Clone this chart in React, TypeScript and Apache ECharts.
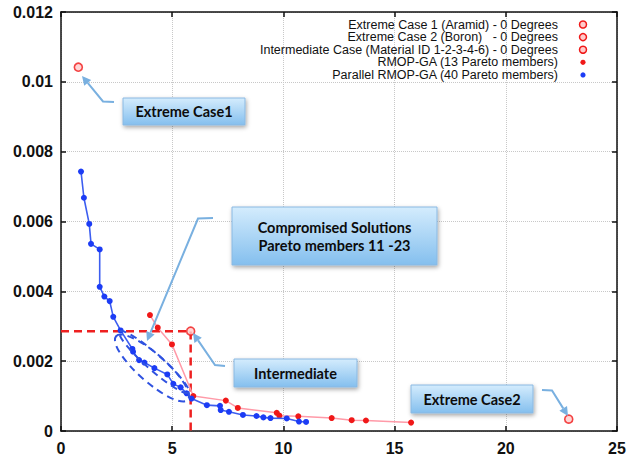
import React, { useEffect, useRef } from "react";
import * as echarts from "echarts";

const xTickLabels = ["0", "5", "10", "15", "20", "25"];
const yTickLabels = ["0", "0.002", "0.004", "0.006", "0.008", "0.01", "0.012"];

const legendLabels = [
  "Extreme Case 1 (Aramid) - 0 Degrees",
  "Extreme Case 2 (Boron)   - 0 Degrees",
  "Intermediate Case (Material ID 1-2-3-4-6) - 0 Degrees",
  "RMOP-GA (13 Pareto members)",
  "Parallel RMOP-GA (40 Pareto members)",
];

const extremeCase1 = [[0.78, 0.01042]];
const extremeCase2 = [[22.83, 0.00034]];
const intermediateCase = [[5.83, 0.00286]];

const rmopGA = [
  [4.0, 0.00332], [4.35, 0.00296], [4.99, 0.00248], [5.95, 0.001],
  [7.41, 0.00087], [7.95, 0.00066], [9.7, 0.00052], [9.82, 0.00044],
  [10.67, 0.00042], [12.17, 0.00037], [13.07, 0.00031], [13.71, 0.0003],
  [15.74, 0.00024],
];

const parallelRmopGA = [
  [0.9, 0.00743], [1.03, 0.00668], [1.27, 0.00593], [1.35, 0.00536],
  [1.74, 0.0052], [1.74, 0.00413], [1.95, 0.00385], [2.19, 0.00372],
  [2.35, 0.00327], [2.68, 0.00288], [3.21, 0.00235], [3.24, 0.00227],
  [3.51, 0.00203], [3.75, 0.00196], [4.2, 0.0018], [4.78, 0.00162],
  [5.05, 0.00135], [5.38, 0.00125], [5.65, 0.00108], [5.87, 0.00093],
  [6.56, 0.00074], [7.15, 0.00072], [7.18, 0.0006], [7.55, 0.00055],
  [8.18, 0.00046], [8.79, 0.00043], [9.1, 0.00039], [9.42, 0.00037],
  [10.15, 0.00036], [10.7, 0.00027], [11.02, 0.00026],
];

const RED = "#f01818";
const BLUE = "#1c3cf5";
const ARROW = "#79b0e0";

function arrow(points: number[][]) {
  const n = points.length;
  const [x1, y1] = points[n - 2];
  const [x2, y2] = points[n - 1];
  const len = Math.hypot(x2 - x1, y2 - y1);
  const dx = (x2 - x1) / len;
  const dy = (y2 - y1) / len;
  const hl = 9;
  const hw = 4.5;
  const bx = x2 - dx * hl;
  const by = y2 - dy * hl;
  const pts = points.slice(0, n - 1).concat([[bx, by]]);
  return [
    {
      type: "polyline",
      shape: { points: pts },
      style: { stroke: ARROW, lineWidth: 2, fill: null },
      z: 100,
    },
    {
      type: "polygon",
      shape: {
        points: [
          [x2, y2],
          [bx - dy * hw, by + dx * hw],
          [bx + dy * hw, by - dx * hw],
        ],
      },
      style: { fill: ARROW },
      z: 100,
    },
  ];
}

function box(x: number, y: number, w: number, h: number, lines: string[]) {
  const els: any[] = [
    {
      type: "rect",
      shape: { x, y, width: w, height: h },
      style: {
        fill: new echarts.graphic.LinearGradient(0, 0, 0, 1, [
          { offset: 0, color: "#d4ecfd" },
          { offset: 1, color: "#84bfee" },
        ]),
        stroke: "#8ab9e2",
        lineWidth: 1,
        shadowBlur: 4,
        shadowOffsetX: 1,
        shadowOffsetY: 2,
        shadowColor: "rgba(0,0,0,0.35)",
      },
      z: 100,
    },
  ];
  const lh = 18;
  const cy = y + h / 2 - ((lines.length - 1) * lh) / 2;
  lines.forEach((t, i) => {
    els.push({
      type: "text",
      z: 101,
      style: {
        text: t,
        x: x + w / 2,
        y: cy + i * lh,
        align: "center",
        verticalAlign: "middle",
        textAlign: "center",
        textVerticalAlign: "middle",
        fontSize: 14.5,
        fontWeight: "bold",
        fontFamily: "Lato",
        fill: "#0c0c0c",
      },
    });
  });
  return els;
}

function buildGraphics() {
  const g: any[] = [];
  const markers = [
    { r: 3.5, fill: "#ffcccc", stroke: RED },
    { r: 3.5, fill: "#ffcccc", stroke: RED },
    { r: 3.5, fill: "#ffcccc", stroke: RED },
    { r: 2.6, fill: RED, stroke: null },
    { r: 2.6, fill: BLUE, stroke: null },
  ];
  legendLabels.forEach((label, i) => {
    const y = 24.5 + i * 12.6;
    g.push({
      type: "text",
      z: 50,
      style: {
        text: label,
        x: 558,
        y,
        align: "right",
        verticalAlign: "middle",
        textAlign: "right",
        textVerticalAlign: "middle",
        fontSize: 12.5,
        fontFamily: "Liberation Sans",
        fill: "#111",
      },
    });
    g.push({
      type: "circle",
      z: 50,
      shape: { cx: 583, cy: y, r: markers[i].r },
      style: {
        fill: markers[i].fill,
        stroke: markers[i].stroke,
        lineWidth: 1.5,
      },
    });
  });
  const ang = -0.724;
  g.push({
    type: "ellipse",
    x: 154,
    y: 362,
    rotation: ang,
    shape: { cx: 0, cy: 0, rx: 46, ry: 8 },
    style: { fill: null, stroke: "#2f52e0", lineWidth: 2, lineDash: [7, 5] },
    z: 90,
  });
  g.push({
    type: "ellipse",
    x: 152,
    y: 368,
    rotation: ang,
    shape: { cx: 0, cy: 0, rx: 48, ry: 14 },
    style: { fill: null, stroke: "#2f52e0", lineWidth: 2, lineDash: [7, 5] },
    z: 90,
  });
  g.push(...arrow([[114, 102], [103, 101.5], [82, 76]]));
  g.push(...arrow([[213, 218], [198, 218.5], [147, 341]]));
  g.push(...arrow([[225, 366], [215, 365], [193, 333]]));
  g.push(...arrow([[542, 390], [552, 390.5], [568, 416]]));
  g.push(...box(123, 98, 122, 27, ["Extreme Case1"]));
  g.push(...box(232, 207, 205, 58, ["Compromised Solutions", "Pareto members 11 -23"]));
  g.push(...box(234, 359, 123, 28, ["Intermediate"]));
  g.push(...box(411, 385, 122, 28, ["Extreme Case2"]));
  return g;
}

export default function App() {
  const ref = useRef<HTMLDivElement>(null);
  useEffect(() => {
    if (!ref.current) return;
    const chart = echarts.init(ref.current, null, { renderer: "svg" });
    const axisLabelStyle = {
      fontSize: 16,
      fontWeight: "bold",
      fontFamily: "Liberation Sans",
      color: "#111",
    };
    const inter = intermediateCase[0];
    const caseStyle = { color: "#ffcccc", borderColor: RED, borderWidth: 1.6 };
    chart.setOption({
      animation: false,
      backgroundColor: "#fff",
      grid: { left: 61, right: 26, top: 12, bottom: 29, containLabel: false },
      xAxis: [
        {
          type: "value",
          min: 0,
          max: 25,
          interval: 5,
          position: "bottom",
          axisLine: { show: true, lineStyle: { color: "#111", width: 1.5 } },
          axisTick: { show: true, inside: true, length: 5, lineStyle: { color: "#111", width: 1.5 } },
          axisLabel: {
            ...axisLabelStyle,
            margin: 9,
            formatter: (v: number) => xTickLabels[Math.round(v / 5)],
          },
          splitLine: { show: true, lineStyle: { color: "#c8c8c8", type: "dotted", width: 1 } },
        },
        {
          type: "value",
          min: 0,
          max: 25,
          interval: 5,
          position: "top",
          axisLine: { show: true, onZero: false, lineStyle: { color: "#111", width: 1.5 } },
          axisTick: { show: true, inside: true, length: 5, lineStyle: { color: "#111", width: 1.5 } },
          axisLabel: { show: false },
          splitLine: { show: false },
        },
      ],
      yAxis: [
        {
          type: "value",
          min: 0,
          max: 0.012,
          interval: 0.002,
          position: "left",
          axisLine: { show: true, lineStyle: { color: "#111", width: 1.5 } },
          axisTick: { show: true, inside: true, length: 5, lineStyle: { color: "#111", width: 1.5 } },
          axisLabel: {
            ...axisLabelStyle,
            margin: 8,
            formatter: (v: number) => yTickLabels[Math.round(v / 0.002)],
          },
          splitLine: { show: true, lineStyle: { color: "#c8c8c8", type: "dotted", width: 1 } },
        },
        {
          type: "value",
          min: 0,
          max: 0.012,
          interval: 0.002,
          position: "right",
          axisLine: { show: true, onZero: false, lineStyle: { color: "#111", width: 1.5 } },
          axisTick: { show: true, inside: true, length: 5, lineStyle: { color: "#111", width: 1.5 } },
          axisLabel: { show: false },
          splitLine: { show: false },
        },
      ],
      series: [
        {
          name: "Intermediate crosshair",
          type: "line",
          data: [[0, inter[1]], inter, [inter[0], 0]],
          symbol: "none",
          lineStyle: { color: "#ee2020", width: 2.5, type: [8, 5] },
          z: 3,
          silent: true,
        },
        {
          name: legendLabels[3],
          type: "line",
          data: rmopGA,
          symbol: "circle",
          symbolSize: 6,
          itemStyle: { color: RED },
          lineStyle: { color: "#ff9aa8", width: 1.5 },
          z: 4,
        },
        {
          name: legendLabels[4],
          type: "line",
          data: parallelRmopGA,
          symbol: "circle",
          symbolSize: 6,
          itemStyle: { color: BLUE },
          lineStyle: { color: "#3d5ef0", width: 1.6 },
          z: 5,
        },
        {
          name: legendLabels[0],
          type: "scatter",
          data: extremeCase1,
          symbol: "circle",
          symbolSize: 8,
          itemStyle: caseStyle,
          z: 6,
        },
        {
          name: legendLabels[1],
          type: "scatter",
          data: extremeCase2,
          symbol: "circle",
          symbolSize: 8,
          itemStyle: caseStyle,
          z: 6,
        },
        {
          name: legendLabels[2],
          type: "scatter",
          data: intermediateCase,
          symbol: "circle",
          symbolSize: 8,
          itemStyle: caseStyle,
          z: 6,
        },
      ],
      graphic: buildGraphics(),
    });
    return () => chart.dispose();
  }, []);
  return (
    <div
      ref={ref}
      style={{ position: "fixed", left: 0, top: 0, width: 643, height: 460 }}
    />
  );
}
